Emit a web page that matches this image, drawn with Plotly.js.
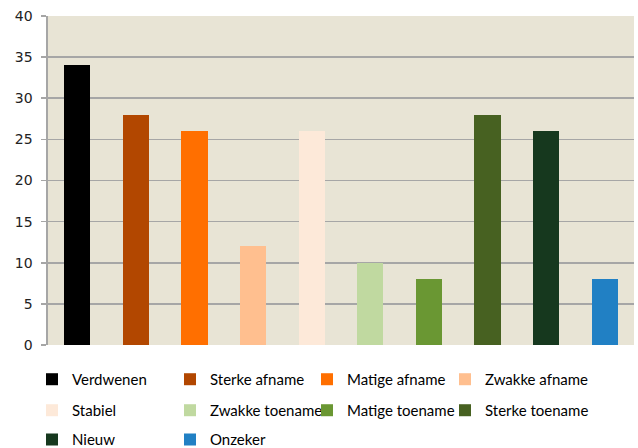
<!DOCTYPE html>
<html><head><meta charset="utf-8">
<script src="https://cdn.plot.ly/plotly-3.0.1.min.js"></script>
<style>body{margin:0;background:#fff}</style>
</head><body>
<div id="chart" style="width:638px;height:448px"></div>
<script>
const categories = ['Verdwenen','Sterke afname','Matige afname','Zwakke afname','Stabiel','Zwakke toename','Matige toename','Sterke toename','Nieuw','Onzeker'];
const values = [34, 28, 26, 12, 26, 10, 8, 28, 26, 8];
const yTicks = [0, 5, 10, 15, 20, 25, 30, 35, 40];

const colors = ['#000000','#b24700','#ff6f00','#ffbf8f','#fde9d9','#c0d9a0','#6a9733','#476121','#16381e','#2180c4'];
// legend: first two rows as 4 vertical column legends, last row as one horizontal legend
const legendIds = ['legend','legend2','legend3','legend4','legend','legend2','legend3','legend4','legend5','legend5'];

const traces = categories.map((c, i) => ({
  type: 'bar', name: c, x: [c], y: [values[i]],
  marker: {color: colors[i], line: {width: 0}},
  legend: legendIds[i], legendgroup: 'g' + i, hoverinfo: 'skip'
}));

const plotLeft = 48, plotRight = 634, plotW = plotRight - plotLeft;
const plotTop = 15.5, plotBottom = 345, plotH = plotBottom - plotTop;
const legFont = {family: 'Lato, sans-serif', size: 15, color: '#000'};
function leg(textX) {
  return {orientation: 'v', x: (textX - 41 - plotLeft) / plotW, xanchor: 'left', xref: 'paper',
    y: -(363 - plotBottom) / plotH, yanchor: 'top', yref: 'paper',
    tracegroupgap: 8.5, font: legFont,
    bgcolor: 'rgba(0,0,0,0)', borderwidth: 0, traceorder: 'grouped', itemclick: false};
}

const layout = {
  width: 638, height: 448,
  margin: {l: plotLeft, r: 638 - plotRight, t: plotTop, b: 448 - plotBottom, autoexpand: false},
  paper_bgcolor: '#ffffff', plot_bgcolor: '#e8e4d5',
  barmode: 'stack', bargap: 0.556,
  showlegend: true,
  legend: leg(73),
  legend2: leg(211),
  legend3: leg(348),
  legend4: leg(486),
  legend5: {orientation: 'h', x: (73 - 41 - plotLeft) / plotW, xanchor: 'left', xref: 'paper',
    y: -(440 - plotBottom) / plotH, yanchor: 'middle', yref: 'paper',
    entrywidth: 93, entrywidthmode: 'pixels', font: legFont,
    bgcolor: 'rgba(0,0,0,0)', borderwidth: 0, traceorder: 'normal', itemclick: false},
  xaxis: {type: 'category', categoryorder: 'array', categoryarray: categories,
    showticklabels: false, ticks: '', showgrid: false, zeroline: false,
    showline: false, fixedrange: true},
  yaxis: {range: [0, 40], tickvals: yTicks, ticktext: yTicks.map(String),
    showgrid: true, gridcolor: '#a6a6a6', gridwidth: 1.6,
    zeroline: false, showline: true, linecolor: '#a6a6a6', linewidth: 1.6,
    ticks: 'outside', ticklen: 5, tickcolor: '#a6a6a6', tickwidth: 1.6,
    ticklabelstandoff: 6,
    tickfont: {family: 'DejaVu Sans, sans-serif', size: 14, color: '#222'},
    fixedrange: true}
};

Plotly.newPlot('chart', traces, layout, {displayModeBar: false, staticPlot: true});
</script>
</body></html>
